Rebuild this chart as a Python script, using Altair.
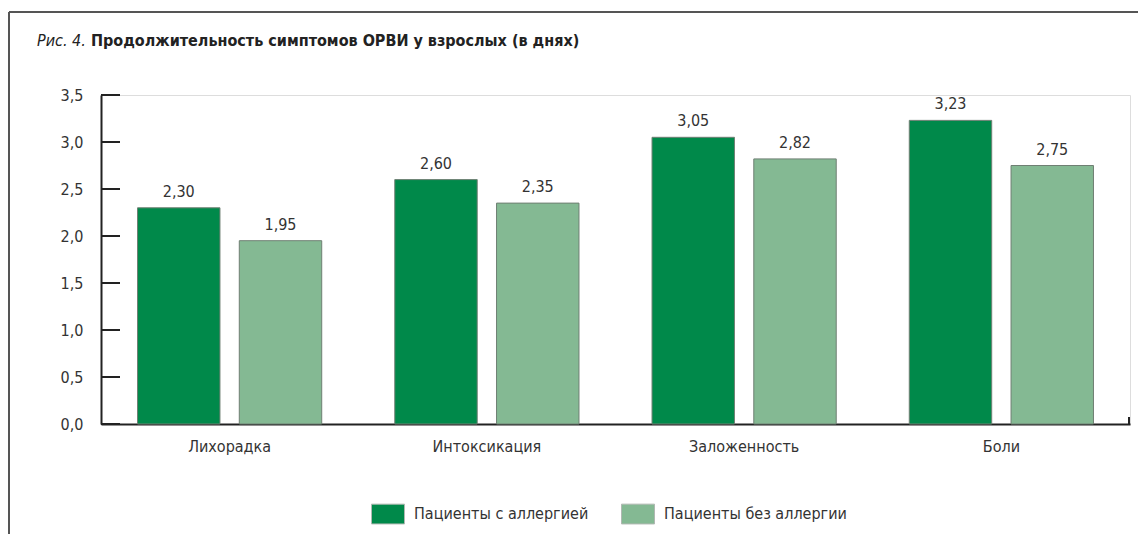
import altair as alt
import pandas as pd

categories = ["Лихорадка", "Интоксикация", "Заложенность", "Боли"]
series = ["Пациенты с аллергией", "Пациенты без аллергии"]
with_allergy = [2.30, 2.60, 3.05, 3.23]
without_allergy = [1.95, 2.35, 2.82, 2.75]
y_ticks = [0.0, 0.5, 1.0, 1.5, 2.0, 2.5, 3.0, 3.5]
colors = ["#00894a", "#84b993"]

rows = []
for i, c in enumerate(categories):
    for s, vals in zip(series, [with_allergy, without_allergy]):
        rows.append({"cat": c, "series": s, "value": vals[i],
                     "label": f"{vals[i]:.2f}".replace(".", ",")})
df = pd.DataFrame(rows)
ticks_df = pd.DataFrame({"t": y_ticks})

FONT = "Liberation Sans Narrow, DejaVu Sans Condensed, sans-serif"
TXT = "#333333"

x = alt.X("cat:N", sort=categories, title=None,
          scale=alt.Scale(paddingInner=0.284, paddingOuter=0.142),
          axis=alt.Axis(domainColor="#222222", domainWidth=2, ticks=False,
                        labelFont=FONT, labelFontSize=16, labelColor=TXT,
                        labelPadding=14, labelAngle=0))
y = alt.Y("value:Q", title=None,
          scale=alt.Scale(domain=[0, 3.5], nice=False),
          axis=alt.Axis(values=y_ticks, ticks=False, grid=False,
                        domainColor="#222222", domainWidth=2,
                        labelExpr="replace(format(datum.value, '.1f'), '.', ',')",
                        labelFont=FONT, labelFontSize=16, labelColor=TXT,
                        labelPadding=18))
xoff = alt.XOffset("series:N", sort=series,
                   scale=alt.Scale(paddingInner=0.19, paddingOuter=0))

bars = alt.Chart(df).mark_bar(stroke="#6f7f73", strokeWidth=1).encode(
    x=x, y=y, xOffset=xoff,
    color=alt.Color("series:N", sort=series,
                    scale=alt.Scale(domain=series, range=colors),
                    legend=alt.Legend(title=None, orient="none", direction="horizontal",
                                      legendX=270, legendY=402,
                                      symbolType="M-1,-0.6H1V0.6H-1Z", symbolSize=1089,
                                      symbolStrokeColor="#b0b8b2", symbolStrokeWidth=1,
                                      labelFont=FONT, labelFontSize=16, labelColor=TXT,
                                      labelLimit=0, labelOffset=9, columnPadding=30)),
)

labels = alt.Chart(df).mark_text(baseline="bottom", dy=-8, font=FONT,
                                 fontSize=16, color=TXT).encode(
    x=x, y=y, xOffset=xoff, text="label:N")

tick_rules = alt.Chart(ticks_df).mark_rule(color="#222222", strokeWidth=2).encode(
    y=alt.Y("t:Q", scale=alt.Scale(domain=[0, 3.5], nice=False)),
    x=alt.value(0), x2=alt.value(19))

end_tick = alt.Chart(ticks_df.head(1)).mark_rule(color="#222222", strokeWidth=2).encode(
    x=alt.value(1028), y=alt.value(322), y2=alt.value(330))

frame_top = alt.Chart(ticks_df.head(1)).mark_rule(color="#555555", strokeWidth=2).encode(
    x=alt.value(-92), x2=alt.value(1040), y=alt.value(-83))
frame_left = alt.Chart(ticks_df.head(1)).mark_rule(color="#555555", strokeWidth=2).encode(
    x=alt.value(-92), y=alt.value(-83), y2=alt.value(440))

title_a = alt.Chart(ticks_df.head(1)).mark_text(
    text="Рис. 4.", align="left", baseline="alphabetic", font=FONT,
    fontSize=16, fontStyle="italic", color="#222222").encode(
    x=alt.value(-64), y=alt.value(-49))
title_b = alt.Chart(ticks_df.head(1)).mark_text(
    text="Продолжительность симптомов ОРВИ у взрослых (в днях)", align="left",
    baseline="alphabetic", font=FONT, fontSize=16, fontWeight="bold",
    color="#222222").encode(x=alt.value(-10), y=alt.value(-49))

chart = alt.layer(frame_top, frame_left, title_a, title_b, bars, labels,
                  tick_rules, end_tick).properties(
    width=1029, height=329,
    autosize=alt.AutoSizeParams(type="none"),
    padding={"left": 93, "top": 87, "right": 8, "bottom": 110},
).configure_view(stroke=None).configure(background="white")

chart.save("out.html", embed_options={"renderer": "svg", "actions": False})
